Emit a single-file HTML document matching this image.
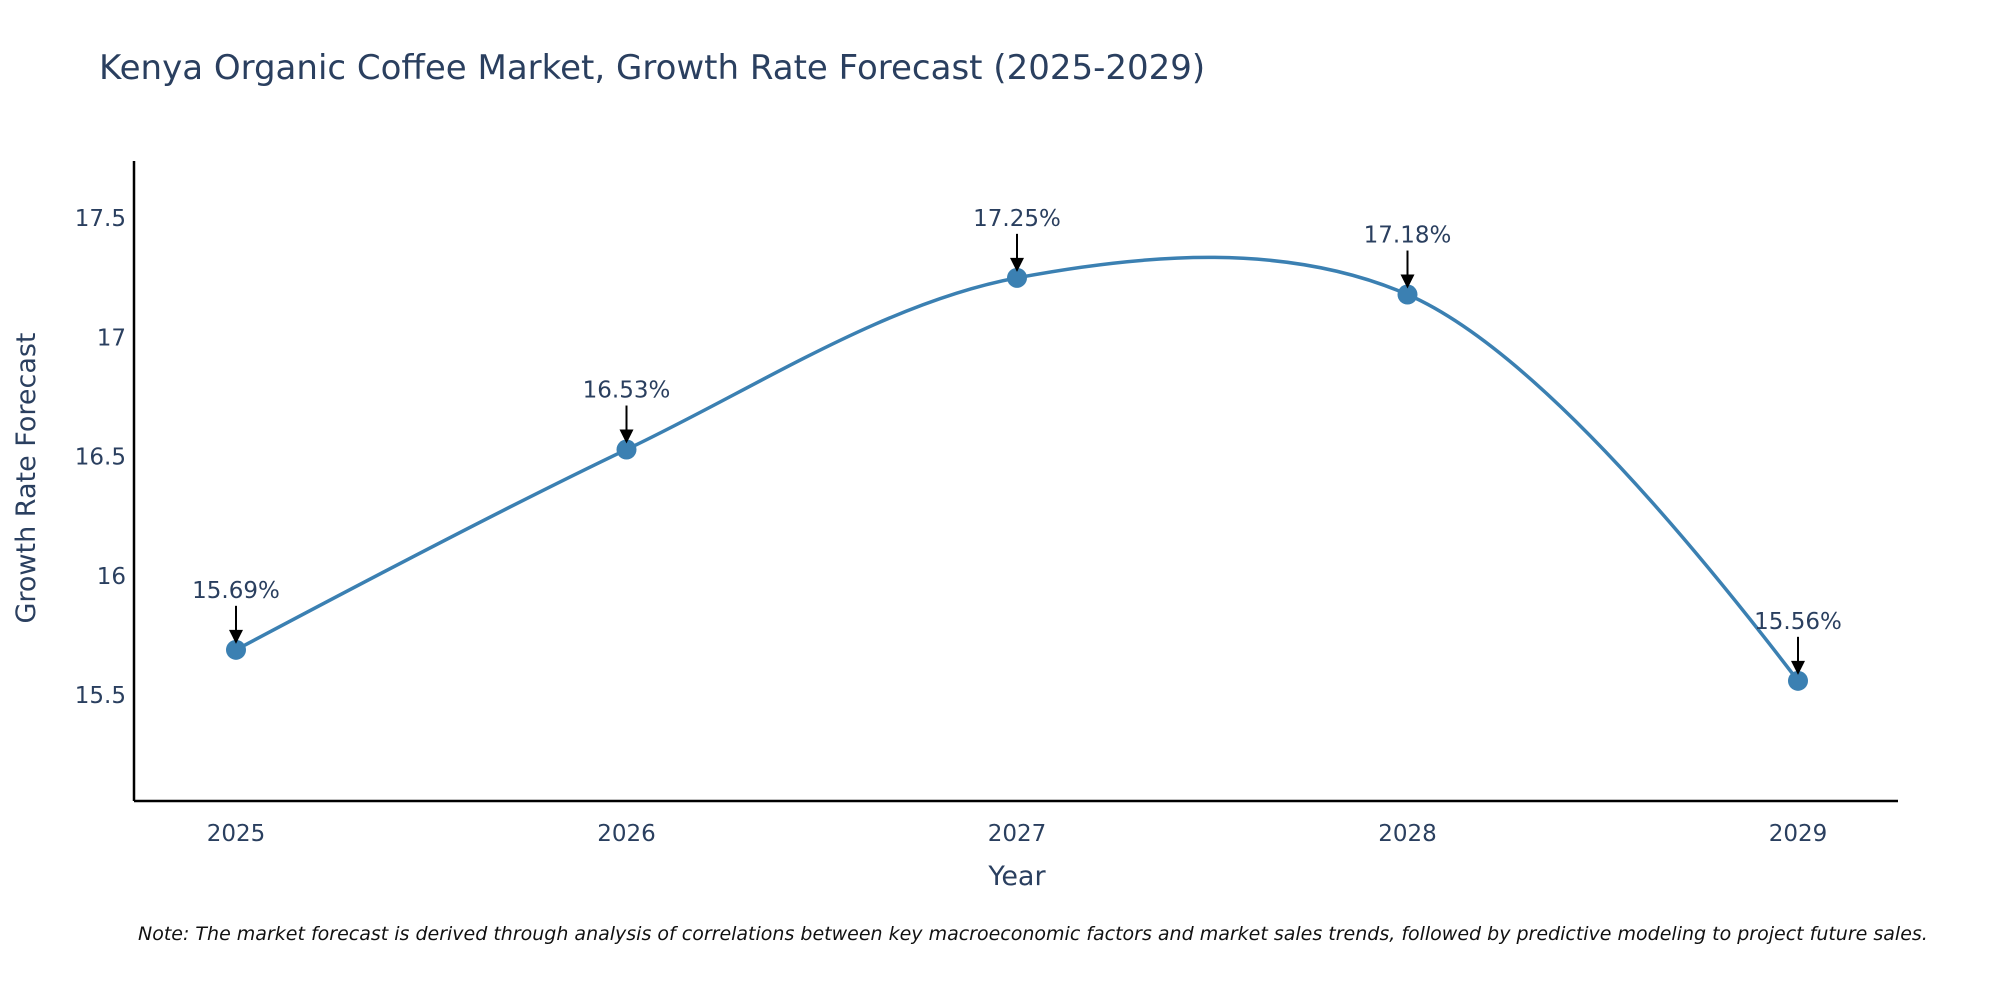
<!DOCTYPE html>
<html><head><meta charset="utf-8"><style>
body{margin:0;background:#fff;}
svg{display:block;font-family:"DejaVu Sans","Liberation Sans",sans-serif;}
</style></head><body>
<svg id="chart" width="2000" height="1000" viewBox="0 0 2000 1000">
<text x="99" y="79" font-size="34" fill="#2a3f5f">Kenya Organic Coffee Market, Growth Rate Forecast (2025-2029)</text>
<g id="axes"></g>
<g id="series"></g>
<g id="annots"></g>
<text x="1017" y="885" font-size="27" fill="#2a3f5f" text-anchor="middle">Year</text>
<text transform="translate(35,478) rotate(-90)" font-size="27" fill="#2a3f5f" text-anchor="middle">Growth Rate Forecast</text>
<text x="138" y="940" font-size="19" font-style="italic" fill="#111">Note: The market forecast is derived through analysis of correlations between key macroeconomic factors and market sales trends, followed by predictive modeling to project future sales.</text>
</svg>
<script>
const years = [2025, 2026, 2027, 2028, 2029];
const growthRates = [15.69, 16.53, 17.25, 17.18, 15.56];
const valueLabels = ["15.69%", "16.53%", "17.25%", "17.18%", "15.56%"];
const yTicks = [15.5, 16, 16.5, 17, 17.5];
const yTickLabels = ["15.5", "16", "16.5", "17", "17.5"];

const NS = "http://www.w3.org/2000/svg";
const L = 134, R = 1898, T = 161, B = 801;
const yMin = 15.056, yMax = 17.74;
function xs(v){ return 236 + (v - 2025) * (1798 - 236) / 4; }
function ys(v){ return B - (v - yMin) / (yMax - yMin) * (B - T); }
function mk(tag, attrs, parent){
  const e = document.createElementNS(NS, tag);
  for (const k in attrs) e.setAttribute(k, attrs[k]);
  parent.appendChild(e); return e;
}
const axes = document.getElementById('axes');
const xAxis = mk('line', {x1:L, y1:B, x2:R, y2:B, stroke:'#000', 'stroke-width':2.5}, axes);


const yAxis = mk('line', {x1:L, y1:T, x2:L, y2:B, stroke:'#000', 'stroke-width':2.5}, axes);


yTicks.forEach((t, i) => {
  const tx = mk('text', {x:L - 8, y:ys(t) + 8, 'font-size':23, fill:'#2a3f5f', 'text-anchor':'end'}, axes);
  tx.textContent = yTickLabels[i];
  
  
});
years.forEach(y => {
  const tx = mk('text', {x:xs(y), y:B + 40, 'font-size':23, fill:'#2a3f5f', 'text-anchor':'middle'}, axes);
  tx.textContent = String(y);
  
  
});

const pts = years.map((y, i) => [xs(y), ys(growthRates[i])]);
function tangent(p, c, n, s){
  const d1x = p[0]-c[0], d1y = p[1]-c[1], d2x = n[0]-c[0], d2y = n[1]-c[1];
  const d1a = Math.pow(d1x*d1x + d1y*d1y, 0.25), d2a = Math.pow(d2x*d2x + d2y*d2y, 0.25);
  const numx = (d2a*d2a*d1x - d1a*d1a*d2x) * s, numy = (d2a*d2a*d1y - d1a*d1a*d2y) * s;
  const den1 = 3*d2a*(d1a+d2a), den2 = 3*d1a*(d1a+d2a);
  return [[c[0] + numx/den1, c[1] + numy/den1], [c[0] - numx/den2, c[1] - numy/den2]];
}
const tg = [];
for (let i = 1; i < pts.length - 1; i++) tg.push(tangent(pts[i-1], pts[i], pts[i+1], 1));
let d = `M${pts[0]}Q${tg[0][0]} ${pts[1]}`;
for (let i = 2; i < pts.length - 1; i++) d += `C${tg[i-2][1]} ${tg[i-1][0]} ${pts[i]}`;
d += `Q${tg[tg.length-1][1]} ${pts[pts.length-1]}`;
const series = document.getElementById('series');
const line = mk('path', {d:d, fill:'none', stroke:'#3b80b2', 'stroke-width':3.5}, series);


pts.forEach(p => {
  const c = mk('circle', {cx:p[0], cy:p[1], r:10, fill:'#3b80b2'}, series);
  
  
});

const an = document.getElementById('annots');
pts.forEach((p, i) => {
  const g = mk('g', {}, an);
  
  
  mk('line', {x1:p[0], y1:p[1]-44, x2:p[0], y2:p[1]-18, stroke:'#000', 'stroke-width':2}, g);
  mk('polygon', {points:`${p[0]-7},${p[1]-20} ${p[0]+7},${p[1]-20} ${p[0]},${p[1]-6}`, fill:'#000'}, g);
  const t = mk('text', {x:p[0], y:p[1]-52, 'font-size':23, fill:'#2a3f5f', 'text-anchor':'middle'}, g);
  t.textContent = valueLabels[i];
});
</script>
</body></html>
